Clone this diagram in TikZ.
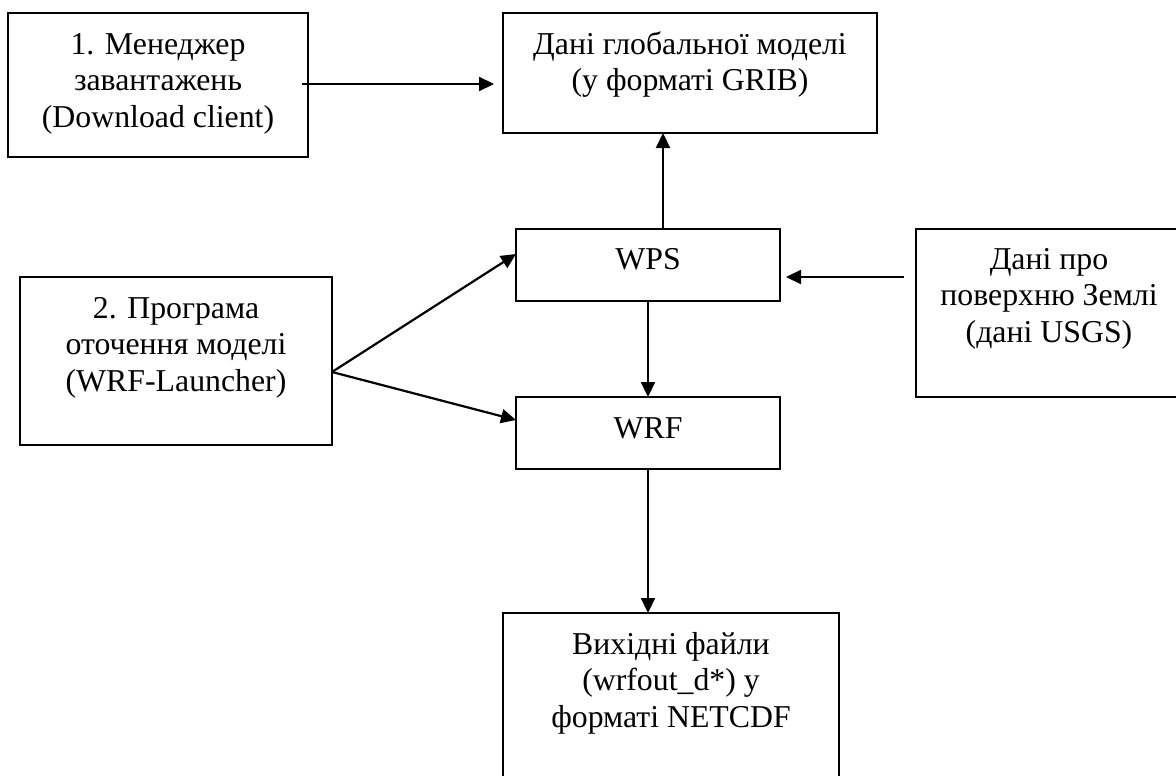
\documentclass[tikz,border=0pt]{standalone}
\usepackage{fontspec}
\setmainfont{Liberation Serif}
\usetikzlibrary{arrows.meta}
\newcommand\firstln{\rule{0pt}{30pt}}
\begin{document}
\begin{tikzpicture}[x=1pt,y=-1pt,
  boxnode/.style={draw=black, line width=2pt, rectangle, inner sep=0pt, outer sep=0pt},
  txt/.style={font=\fontsize{31.8pt}{36.6pt}\selectfont, align=center, inner sep=0pt, anchor=north},
  conn/.style={line width=2.2pt, -{Triangle[length=15pt,width=14pt]}}]
\useasboundingbox (0,0) rectangle (1176,776);

% boxes
\node[boxnode, minimum width=300pt, minimum height=144pt] (mgr) at (158,85) {};
\node[boxnode, minimum width=374pt, minimum height=120pt] (grib) at (690,73) {};
\node[boxnode, minimum width=264pt, minimum height=72pt] (wps) at (648,265) {};
\node[boxnode, minimum width=264pt, minimum height=72pt] (wrf) at (648,433) {};
\node[boxnode, minimum width=266pt, minimum height=168pt] (usgs) at (1049,313) {};
\node[boxnode, minimum width=312pt, minimum height=168pt] (launch) at (176,361) {};
\node[boxnode, minimum width=336pt, minimum height=165pt] (out) at (671,695.5) {};

% texts
\node[txt] (mgrT) at ([yshift=-11pt]mgr.north) {\firstln 1. Менеджер\\завантажень\\(Download client)};
\node[txt] (gribT) at ([yshift=-11pt]grib.north) {\firstln Дані глобальної моделі\\(у форматі GRIB)};
\node[txt] (wpsT) at ([yshift=-10pt]wps.north) {\firstln WPS};
\node[txt] (wrfT) at ([yshift=-11pt]wrf.north) {\firstln WRF};
\node[txt] (usgsT) at ([yshift=-10pt]usgs.north) {\firstln Дані про\\поверхню Землі\\(дані USGS)};
\node[txt] (launchT) at ([yshift=-11pt]launch.north) {\firstln 2. Програма\\оточення моделі\\(WRF-Launcher)};
\node[txt] (outT) at ([yshift=-11pt]out.north) {\firstln Вихідні файли\\(wrfout\_d*) у\\форматі NETCDF};

% connectors
\coordinate (fork) at ([yshift=-11pt]launch.east);
\draw[conn, shorten <=-6pt, shorten >=9pt] ([yshift=1pt]mgr.east) -- ([yshift=1pt]mgr.east -| grib.west);
\draw[conn] ([xshift=15pt]wps.north) -- ([xshift=15pt]wps.north |- grib.south);
\draw[conn, shorten <=12pt, shorten >=6pt] ([yshift=-12pt]wps.east -| usgs.west) -- ([yshift=-12pt]wps.east);
\draw[conn] (fork) -- ([yshift=11pt]wps.west);
\draw[conn] (fork) -- ([yshift=13pt]wrf.west);
\draw[conn] (wps.south) -- (wrf.north);
\draw[conn] (wrf.south) -- (wrf.south |- out.north);
\end{tikzpicture}
\end{document}
